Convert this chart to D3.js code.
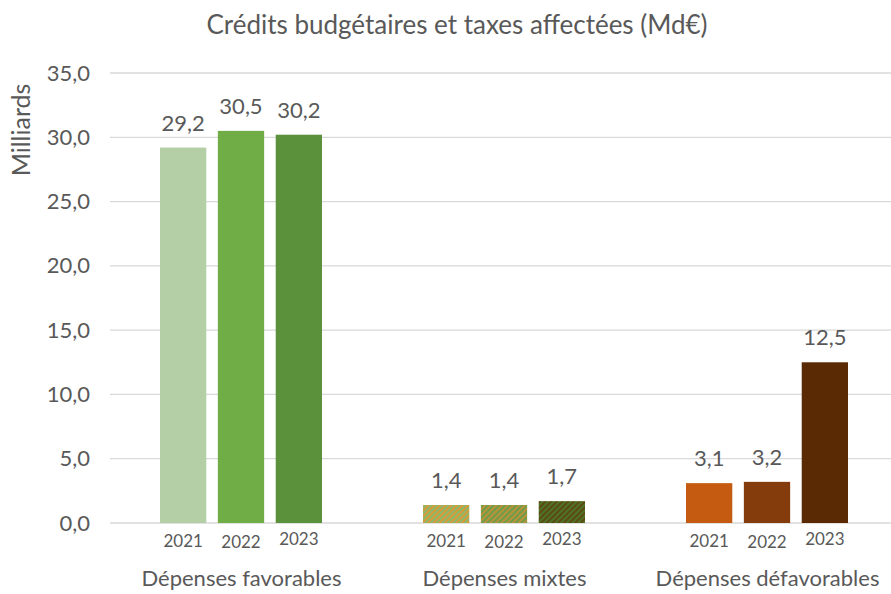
<!DOCTYPE html>
<html>
<head>
<meta charset="utf-8">
<script src="https://cdn.jsdelivr.net/npm/d3@7"></script>
<style>
  body { margin: 0; background: #fff; }
  svg text { font-family: Lato, "Open Sans", sans-serif; fill: #595959; }
</style>
</head>
<body>
<div id="canvas" class="canvas"></div>
<script>
// --- data
var categories = ['Dépenses favorables', 'Dépenses mixtes', 'Dépenses défavorables'];
var years = ['2021', '2022', '2023'];
var favorables = [29.2, 30.5, 30.2];
var mixtes = [1.4, 1.4, 1.7];
var defavorables = [3.1, 3.2, 12.5];
var yTicks = [0, 5, 10, 15, 20, 25, 30, 35];

var series = [favorables, mixtes, defavorables];

// --- margin convention
var W = 891, H = 594;
var M = {top: 73, right: -8, bottom: 71, left: 110};
var w = W - M.left - M.right,
    h = H - M.top - M.bottom;

var svg = d3.select('.canvas')
    .append('svg')
    .attr('width', W)
    .attr('height', H);

// --- hatch patterns for the mixed bars
var defs = svg.append('defs');
var hatch = [
    {id: 'h2021', a: '#d79a38', b: '#8db86a'},
    {id: 'h2022', a: '#b8933a', b: '#6f9c48'},
    {id: 'h2023', a: '#5b4a12', b: '#4e7326'}
];
hatch.forEach(function(p) {
    var pat = defs.append('pattern')
        .attr('id', p.id)
        .attr('width', 4).attr('height', 4)
        .attr('patternUnits', 'userSpaceOnUse')
        .attr('patternTransform', 'rotate(45)');
    pat.append('rect').attr('width', 4).attr('height', 4).attr('fill', p.b);
    pat.append('rect').attr('width', 2).attr('height', 4).attr('fill', p.a);
});

var colors = [
    ['#b4cfa6', '#70ad47', '#5a913a'],
    ['url(#h2021)', 'url(#h2022)', 'url(#h2023)'],
    ['#c55a11', '#843c0c', '#5a2a05']
];

var plot = svg.append('g')
    .attr('transform', 'translate(' + M.left + ',' + M.top + ')');

var x0 = d3.scaleBand().domain(categories).range([0, w]).padding(0);
var x1 = d3.scaleBand().domain(years).range([50, 212])
    .paddingInner(0.2).paddingOuter(0);
var y = d3.scaleLinear().domain([0, 35]).range([h, 0]);

// gridlines
plot.append('g')
    .selectAll('line')
    .data(yTicks)
    .join('line')
    .attr('x1', 0).attr('x2', W - M.left)
    .attr('y1', function(d) { return y(d); })
    .attr('y2', function(d) { return y(d); })
    .attr('stroke', '#d9d9d9')
    .attr('stroke-width', 1.3);

// y axis labels
var yAxis = d3.axisLeft(y).tickValues(yTicks).tickSize(0).tickPadding(20)
    .tickFormat(function(d) { return d3.format('.1f')(d).replace('.', ','); });
var ya = plot.append('g').call(yAxis);
ya.select('.domain').remove();
ya.selectAll('text').style('font-size', '22px').attr('fill', '#595959');

// bars
var yearDy = [0, 1, -2];
categories.forEach(function(c, ci) {
    var g = plot.append('g').attr('transform', 'translate(' + x0(c) + ',0)');
    years.forEach(function(yr, yi) {
        var v = series[ci][yi];
        g.append('rect')
            .attr('x', x1(yr))
            .attr('y', y(v))
            .attr('width', x1.bandwidth())
            .attr('height', h - y(v))
            .attr('fill', colors[ci][yi]);
        g.append('text')
            .attr('x', x1(yr) + x1.bandwidth() / 2)
            .attr('y', y(v) - 17)
            .attr('text-anchor', 'middle')
            .style('font-size', '22px')
            .text(d3.format('.1f')(v).replace('.', ','));
        g.append('text')
            .attr('x', x1(yr) + x1.bandwidth() / 2)
            .attr('y', h + 24 + yearDy[yi])
            .attr('text-anchor', 'middle')
            .style('font-size', '17px')
            .text(yr);
    });
    g.append('text')
        .attr('x', x0.bandwidth() / 2)
        .attr('y', h + 63)
        .attr('text-anchor', 'middle')
        .style('font-size', '22px')
        .text(c);
});

// title
svg.append('text')
    .attr('x', 457).attr('y', 34)
    .attr('text-anchor', 'middle')
    .style('font-size', '26px')
    .text('Crédits budgétaires et taxes affectées (Md€)');

// y title
svg.append('text')
    .attr('transform', 'translate(30,' + 130 + ') rotate(-90)')
    .attr('text-anchor', 'middle')
    .style('font-size', '25px')
    .text('Milliards');
</script>
</body>
</html>
